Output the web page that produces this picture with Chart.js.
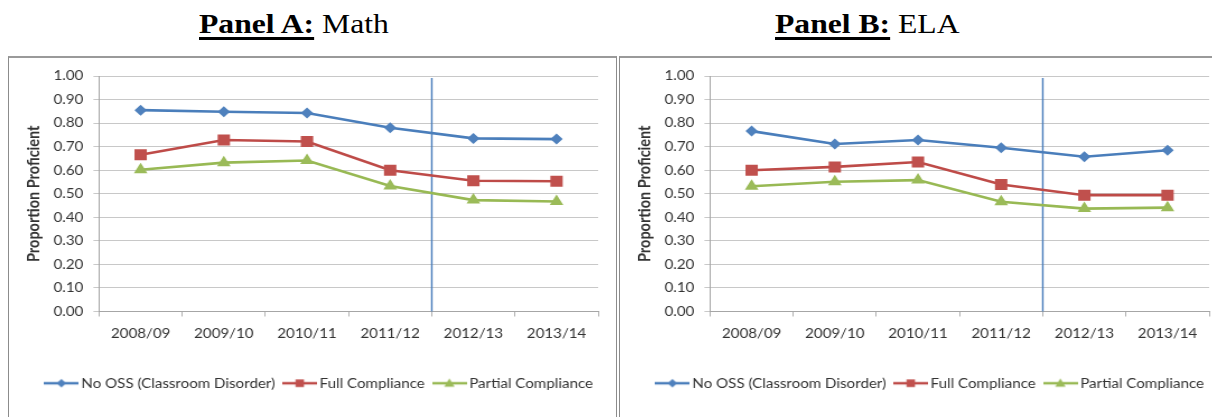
<!DOCTYPE html>
<html><head><meta charset="utf-8">
<script src="https://cdn.jsdelivr.net/npm/chart.js@4/dist/chart.umd.min.js"></script>
<style>
html,body{margin:0;padding:0;background:#fff;width:1212px;height:417px;overflow:hidden;position:relative;}
.box{position:absolute;top:56px;height:380px;border:1px solid #8c8c8c;border-top:2px solid #9a9a9a;box-sizing:border-box;}
.wrap{position:absolute;top:58px;width:542px;height:359px;transform:scaleX(1.12);transform-origin:0 0;}
.ttl{position:absolute;top:8px;font-family:"Liberation Serif","Times New Roman",serif;font-size:28px;line-height:32px;white-space:nowrap;transform:scaleX(1.13);transform-origin:0 0;color:#000;}
.ttl b{text-decoration:underline;text-decoration-thickness:3px;text-underline-offset:4px;}
</style></head><body>
<div class="ttl" style="left:199px"><b>Panel A:</b> Math</div>
<div class="ttl" style="left:775px"><b>Panel B:</b> ELA</div>
<div class="box" style="left:8px;width:609px"></div>
<div class="box" style="left:619px;width:620px"></div>
<div class="wrap" style="left:9px"><canvas id="cA" width="542" height="359"></canvas></div>
<div class="wrap" style="left:620px"><canvas id="cB" width="542" height="359"></canvas></div>
<script>
// ---- data ----
const categories = ['2008/09','2009/10','2010/11','2011/12','2012/13','2013/14'];
const seriesNames = ['No OSS (Classroom Disorder)','Full Compliance','Partial Compliance'];
const mathNoOSS   = [0.855, 0.848, 0.843, 0.780, 0.735, 0.732];
const mathFull    = [0.666, 0.728, 0.722, 0.600, 0.555, 0.553];
const mathPartial = [0.602, 0.632, 0.641, 0.533, 0.473, 0.467];
const elaNoOSS    = [0.766, 0.711, 0.728, 0.695, 0.657, 0.685];
const elaFull     = [0.600, 0.614, 0.635, 0.539, 0.494, 0.494];
const elaPartial  = [0.532, 0.551, 0.558, 0.466, 0.437, 0.441];
const yAxisTitle = 'Proportion Proficient';
const yMin = 0, yMax = 1, yStep = 0.1;
const policyBreakAfter = '2011/12';

// ---- styles ----
const FONT = 'Lato, "Open Sans", sans-serif';
const TXT = '#333333';
const lineColors = ['#4a7ebb','#be4b48','#98b954'];
const fillColors = ['#4f81bd','#c0504d','#9bbb59'];
const pStyles = ['rectRot','rect','triangle'];
const pRadii = [5.5, 7.8, 7];

function makeIcon(i){
  const c = document.createElement('canvas'); c.width = 31; c.height = 14;
  const g = c.getContext('2d');
  g.strokeStyle = lineColors[i]; g.lineWidth = 2.5;
  g.beginPath(); g.moveTo(0,7); g.lineTo(31,7); g.stroke();
  g.fillStyle = fillColors[i]; g.beginPath();
  const cx = 15.5, cy = 7;
  if (i === 0) { g.moveTo(cx, cy-4.2); g.lineTo(cx+4.2, cy); g.lineTo(cx, cy+4.2); g.lineTo(cx-4.2, cy); }
  else if (i === 1) { g.rect(cx-3.8, cy-3.8, 7.6, 7.6); }
  else { g.moveTo(cx, cy-4.8); g.lineTo(cx+4.6, cy+3.4); g.lineTo(cx-4.6, cy+3.4); }
  g.closePath(); g.fill();
  return c;
}
const legendIcons = [0,1,2].map(makeIcon);

const dividerPlugin = {
  id: 'divider',
  beforeDatasetsDraw(chart){
    const xs = chart.scales.x;
    const i = categories.indexOf(policyBreakAfter);
    const px = (xs.getPixelForValue(i) + xs.getPixelForValue(i+1)) / 2;
    const {top, bottom} = chart.chartArea;
    const ctx = chart.ctx;
    ctx.save(); ctx.strokeStyle = '#4a7ebb'; ctx.lineWidth = 1.4;
    ctx.beginPath(); ctx.moveTo(px, top + 2); ctx.lineTo(px, bottom); ctx.stroke();
    ctx.restore();
  }
};

function makeChart(id, series){
  return new Chart(document.getElementById(id), {
    type: 'line',
    data: {
      labels: categories,
      datasets: series.map((d,i) => ({
        label: seriesNames[i], data: d,
        borderColor: lineColors[i], backgroundColor: fillColors[i],
        pointBackgroundColor: fillColors[i], pointBorderColor: fillColors[i], pointBorderWidth: 0,
        pointStyle: pStyles[i], pointRadius: pRadii[i], borderWidth: 2.6, tension: 0
      }))
    },
    options: {
      responsive: false, animation: false,
      layout: {padding: {left: 20, right: 4.8, top: 18, bottom: 17}},
      plugins: {
        tooltip: {enabled: false},
        legend: {
          position: 'bottom',
          labels: {
            usePointStyle: true, pointStyleWidth: 22, padding: 11, color: TXT,
            font: {family: FONT, size: 13.5},
            generateLabels(chart){
              const items = Chart.defaults.plugins.legend.labels.generateLabels(chart);
              items.forEach((it, i) => { it.pointStyle = legendIcons[i]; });
              return items;
            }
          }
        }
      },
      scales: {
        x: {
          offset: true,
          grid: {offset: true, drawOnChartArea: false, tickLength: 5, color: '#b0b0b0'},
          border: {color: '#a6a6a6'},
          ticks: {padding: 9, color: TXT, font: {family: FONT, size: 13.5}, maxRotation: 0, autoSkip: false},
          afterFit(s){ s.height = 54; }
        },
        y: {
          min: yMin, max: yMax,
          ticks: {stepSize: yStep, padding: 9, color: TXT, font: {family: FONT, size: 13.5}, callback: v => Number(v).toFixed(2)},
          grid: {color: '#c8c8c8', tickLength: 5},
          border: {color: '#a6a6a6'},
          title: {display: true, text: yAxisTitle, color: TXT, font: {family: FONT, size: 14.5, weight: 'bold'}, padding: {top: -6, bottom: 0}},
          afterFit(s){ s.width = 60.4; }
        },
        ySpacer: {
          type: 'linear', position: 'right', display: true, min: yMin, max: yMax,
          grid: {display: false, drawTicks: false}, border: {display: false}, ticks: {display: false},
          afterFit(s){ s.width = 11.2; }
        }
      }
    },
    plugins: [dividerPlugin]
  });
}
makeChart('cA', [mathNoOSS, mathFull, mathPartial]);
makeChart('cB', [elaNoOSS, elaFull, elaPartial]);
</script>
</body></html>
